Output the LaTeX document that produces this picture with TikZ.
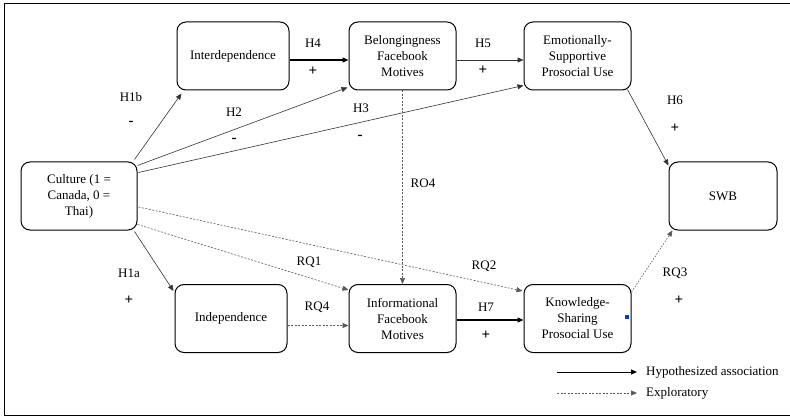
\documentclass[tikz,border=0pt]{standalone}
\usepackage{fontspec}
\setmainfont{Liberation Serif}
\usetikzlibrary{arrows.meta, positioning, calc}
\tikzset{%
	box/.style={draw, rectangle, minimum width=107pt, minimum height=68pt, inner sep=1pt,%
		rounded corners=9pt, align=center, line width=1pt, font=\fontsize{13}{16}\selectfont},
	lbl/.style={font=\fontsize{13}{16}\selectfont, inner sep=0pt},
	plus/.style={font=\fontsize{15}{16}\selectfont\bfseries, inner sep=0pt},
	minus/.style={font=\fontsize{15}{16}\selectfont\bfseries, inner sep=0pt},
	hyp/.style={-{Triangle[length=6pt,width=5pt]}, line width=0.6pt, draw=black!80},
	hypb/.style={hyp, line width=1.3pt, draw=black},
	expl/.style={hyp, draw=black!65, dash pattern=on 2pt off 1.5pt},
	blip/.style={fill=blue!70!cyan!80!black, minimum size=4pt, inner sep=0pt}
}

\begin{document}
\begin{tikzpicture}[x=1pt, y=-1pt]
	\useasboundingbox (0,0) rectangle (790,417);
	\draw[line width=1pt] (791,3.5) -- (4,3.5) -- (4,415.5) -- (791,415.5);
	% constructs
	\node[box, minimum width=116pt] (cult) at (79,196) {Culture (1 =\\Canada, 0 =\\Thai)};
	\node[box, minimum width=112pt] (inter) at (233,56) {Interdependence};
	\node[box] (belong) [right=59pt of inter] {Belongingness\\Facebook\\Motives};
	\node[box] (emot) [right=67pt of belong] {Emotionally-\\Supportive\\Prosocial Use};
	\node[box, minimum width=112pt] (indep) at (231,318.5) {Independence};
	\node[box] (inform) [right=61pt of indep] {Informational\\Facebook\\Motives};
	\node[box] (knowl) [right=67pt of inform] {Knowledge-\\Sharing\\Prosocial Use};
	\node[box, minimum width=108pt] (swb) at (723,196) {SWB};
	\node[blip] (mark) at (626.5,317) {};
	% paths
	\draw[hyp] ($(cult.north east)+(-3,-2)$) -- ($(inter.south west)+(5,3)$);
	\draw[hyp] ($(cult.north east)+(0,4)$) -- ($(belong.south west)+(-1,-3)$);
	\draw[hyp] ($(cult.north east)+(1,11)$) -- ($(emot.south west)+(0,-5)$);
	\draw[hyp] ($(cult.south east)+(-3,1)$) -- ($(indep.north west)+(-1,7)$);
	\draw[expl] ($(cult.south east)+(0,-6)$) -- ($(inform.north west)+(0,6)$);
	\draw[expl] ($(cult.east)+(1,11)$) -- ($(knowl.north west)+(-1,7)$);
	\draw[expl] (belong) -- (inform);
	\draw[hypb] ($(inter.east)+(0,4)$) -- ($(belong.west)+(0,4)$);
	\draw[hyp] ($(belong.east)+(0,4)$) -- ($(emot.west)+(0,4)$);
	\draw[hyp] ($(emot.south east)+(-4,-1)$) -- ($(swb.north west)+(0,4)$);
	\draw[expl] ($(indep.east)+(0,7)$) -- ($(inform.west)+(0,7)$);
	\draw[hypb] ($(inform.east)+(0,1.5)$) -- ($(knowl.west)+(0,1.5)$);
	\draw[expl, dash pattern=on 1.5pt off 1.5pt] ($(knowl.north east)+(0,8)$) -- ($(swb.south west)+(4,0)$);
	% labels
	\node[lbl] (h1b) at (131,97) {H1b};
	\node[minus] (h1b-s) at (131,123) {-};
	\node[lbl] (h2) at (234,112) {H2};
	\node[minus] (h2-s) at (234,140) {-};
	\node[lbl] (h3) at (361,108) {H3};
	\node[minus] (h3-s) at (360,137) {-};
	\node[lbl] (h4) at (313,43) {H4};
	\node[plus] (h4-s) at (313,71) {+};
	\node[lbl] (h5) at (483,43) {H5};
	\node[plus] (h5-s) at (483,70) {+};
	\node[lbl] (h6) at (675,100) {H6};
	\node[plus] (h6-s) at (675,128) {+};
	\node[lbl] (ro4) at (423,183) {RO4};
	\node[lbl] (rq1) at (309,262) {RQ1};
	\node[lbl] (rq2) at (484,266) {RQ2};
	\node[lbl] (rq3) at (675,273) {RQ3};
	\node[plus] (rq3-s) at (679,300) {+};
	\node[lbl] (h1a) at (129,273) {H1a};
	\node[plus] (h1a-s) at (129,300) {+};
	\node[lbl] (rq4) at (317,307) {RQ4};
	\node[lbl] (h7) at (486,307) {H7};
	\node[plus] (h7-s) at (486,335) {+};
	% legend
	\coordinate (leg-h) at (557,372);
	\coordinate (leg-h-end) at (637,372);
	\node[lbl, anchor=west] (leg-hyp) at (646,372) {Hypothesized association};
	\draw[hypb, line width=1pt] (leg-h) -- (leg-h-end);
	\coordinate (leg-e) at (557,393);
	\coordinate (leg-e-end) at (637,393);
	\node[lbl, anchor=west] (leg-exp) at (646,393) {Exploratory};
	\draw[expl] (leg-e) -- (leg-e-end);
\end{tikzpicture}
\end{document}
